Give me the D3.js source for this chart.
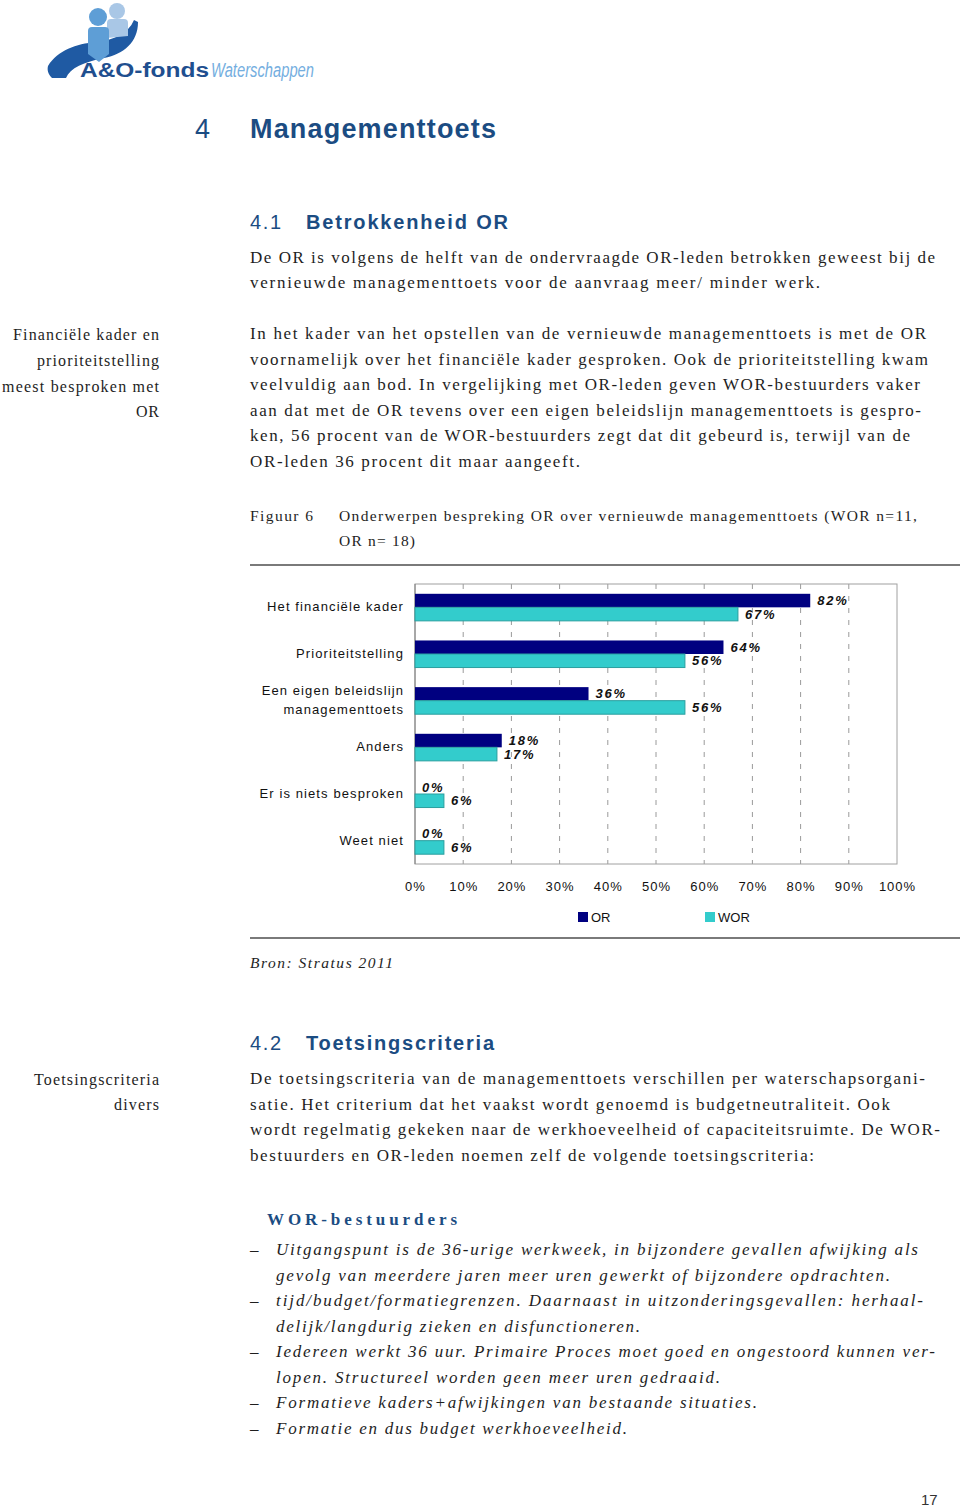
<!DOCTYPE html>
<html><head><meta charset="utf-8">
<script src="https://cdn.jsdelivr.net/npm/d3@7"></script>
<style>
html,body{margin:0;padding:0;background:#fff;}
svg{display:block;}
</style></head>
<body>
<svg id="page" width="960" height="1509"></svg>
<script>
// ---------- DATA ----------
const categories = ["Het financiële kader", "Prioriteitstelling", "Een eigen beleidslijn\nmanagementtoets", "Anders", "Er is niets besproken", "Weet niet"];
const orValues  = [82, 64, 36, 18, 0, 0];
const worValues = [67, 56, 56, 17, 6, 6];
const seriesNames = ["OR", "WOR"];
const seriesColors = ["#000080", "#33cccc"];
const tickValues = [0, 10, 20, 30, 40, 50, 60, 70, 80, 90, 100];

// ---------- PAGE TEXT ----------
const BLUE = "#1b4c82", INK = "#1e1e1e";
const svg = d3.select("#page");

function line(x0, x1, yc, str, o = {}) {
  const t = svg.append("text")
    .attr("x", x0).attr("y", yc + (o.dy ?? 6))
    .attr("font-family", o.family || "'Liberation Serif', 'Times New Roman', serif")
    .attr("font-size", o.size || 17)
    .attr("fill", o.fill || INK)
    .attr("font-weight", o.weight || "normal")
    .attr("font-style", o.style || "normal")
    .text(str);
  if (x1) t.attr("textLength", x1 - x0).attr("lengthAdjust", o.adjust || "spacing");
  return t;
}

// Logo
const logo = svg.append("g");
logo.append("path").attr("d", "M48,66 C58,50 76,44 96,42 C114,40 128,34 134,20 L138,22 C138,42 124,54 104,58 C84,62 70,68 66,78 L52,78 C48,74 47,70 48,66 Z").attr("fill", "#1f5aa3");
logo.append("circle").attr("cx", 117).attr("cy", 11).attr("r", 8).attr("fill", "#a9c7e6");
logo.append("path").attr("d", "M107,23 Q107,19 111,19 L124,19 Q128,19 128,23 L128,36 L107,38 Z").attr("fill", "#a9c7e6");
logo.append("circle").attr("cx", 98).attr("cy", 17).attr("r", 9).attr("fill", "#5e9ed6");
logo.append("path").attr("d", "M88,31 Q88,27 92,27 L105,27 Q109,27 109,31 L109,54 L99,62 L88,54 Z").attr("fill", "#5e9ed6");
line(80, 209, 70, "A&O-fonds", {family: "'Liberation Sans', Arial, sans-serif", weight: "bold", size: 20, fill: "#1f4f8f", dy: 7, adjust: "spacingAndGlyphs"});
line(211, 314, 70, "Waterschappen", {family: "'Liberation Sans', Arial, sans-serif", style: "italic", size: 20, fill: "#74aee0", dy: 7, adjust: "spacingAndGlyphs"});

// Chapter heading
line(195, null, 128, "4", {family: "'Liberation Sans', Arial, sans-serif", size: 27, fill: BLUE, dy: 10});
line(250, 496, 128, "Managementtoets", {family: "'Liberation Sans', Arial, sans-serif", size: 27, weight: "bold", fill: BLUE, dy: 10});

// 4.1
line(250, 281, 222, "4.1", {family: "'Liberation Sans', Arial, sans-serif", size: 20, fill: BLUE, dy: 7});
line(306, 508, 222, "Betrokkenheid OR", {family: "'Liberation Sans', Arial, sans-serif", size: 20, weight: "bold", fill: BLUE, dy: 7});

line(250, 935, 257, "De OR is volgens de helft van de ondervraagde OR-leden betrokken geweest bij de");
line(250, 820, 282, "vernieuwde managementtoets voor de aanvraag meer/ minder werk.");

// side note 1
line(13, 159, 334, "Financiële kader en", {size: 16});
line(37, 159, 360, "prioriteitstelling", {size: 16});
line(2, 159, 386, "meest besproken met", {size: 16});
line(136, 159, 411, "OR", {size: 16});

const p2 = [
  [926, "In het kader van het opstellen van de vernieuwde managementtoets is met de OR"],
  [928, "voornamelijk over het financiële kader gesproken. Ook de prioriteitstelling kwam"],
  [920, "veelvuldig aan bod. In vergelijking met OR-leden geven WOR-bestuurders vaker"],
  [921, "aan dat met de OR tevens over een eigen beleidslijn managementtoets is gespro-"],
  [910, "ken, 56 procent van de WOR-bestuurders zegt dat dit gebeurd is, terwijl van de"],
  [580, "OR-leden 36 procent dit maar aangeeft."]
];
p2.forEach((d, i) => line(250, d[0], 333 + i * 25.6, d[1]));

// Figure caption
line(250, 313, 515, "Figuur 6", {size: 15.5});
line(339, 917, 515, "Onderwerpen bespreking OR over vernieuwde managementtoets (WOR n=11,", {size: 15.5});
line(339, 415, 540, "OR n= 18)", {size: 15.5});

svg.append("line").attr("x1", 250).attr("x2", 960).attr("y1", 565).attr("y2", 565).attr("stroke", "#7a7a7a").attr("stroke-width", 2);
svg.append("line").attr("x1", 250).attr("x2", 960).attr("y1", 938).attr("y2", 938).attr("stroke", "#7a7a7a").attr("stroke-width", 2);

// ---------- CHART ----------
const plot = {left: 415, right: 897, top: 584, bottom: 864};
const x = d3.scaleLinear().domain([0, 100]).range([plot.left, plot.right]);
const y = d3.scaleBand().domain(categories).range([plot.top, plot.bottom]).paddingInner(0.42).paddingOuter(0.21);
const ySub = d3.scaleBand().domain(seriesNames).range([0, y.bandwidth()]);
const chart = svg.append("g").attr("font-family", "'Liberation Sans', Arial, sans-serif");

// gridlines
chart.append("g").selectAll("line").data(tickValues.filter(t => t > 0 && t < 100)).join("line")
  .attr("x1", d => x(d)).attr("x2", d => x(d)).attr("y1", plot.top).attr("y2", plot.bottom)
  .attr("stroke", "#9a9a9a").attr("stroke-width", 1).attr("stroke-dasharray", "5,7");
// frame
chart.append("rect").attr("x", plot.left).attr("y", plot.top).attr("width", plot.right - plot.left).attr("height", plot.bottom - plot.top)
  .attr("fill", "none").attr("stroke", "#a0a0a0").attr("stroke-width", 1);
chart.append("line").attr("x1", plot.left).attr("x2", plot.left).attr("y1", plot.top).attr("y2", plot.bottom).attr("stroke", "#808080");

const rows = categories.map((c, i) => ({cat: c, vals: [orValues[i], worValues[i]]}));
const grp = chart.append("g").selectAll("g").data(rows).join("g").attr("transform", d => `translate(0,${y(d.cat)})`);
grp.selectAll("rect").data(d => d.vals.map((v, j) => ({v, s: seriesNames[j], j}))).join("rect")
  .attr("x", x(0)).attr("y", d => ySub(d.s)).attr("width", d => x(d.v) - x(0)).attr("height", ySub.bandwidth())
  .attr("fill", d => seriesColors[d.j])
  .attr("stroke", d => d.j === 1 && d.v > 0 ? "#2a9f9f" : "none").attr("stroke-width", 1);
grp.selectAll("text.val").data(d => d.vals.map((v, j) => ({v, s: seriesNames[j], j}))).join("text").attr("class", "val")
  .attr("x", d => x(d.v) + 7).attr("y", d => ySub(d.s) + ySub.bandwidth() / 2 + 4.5)
  .attr("font-size", 13).attr("font-weight", "bold").attr("font-style", "italic").attr("letter-spacing", 1.8)
  .attr("fill", "#111").text(d => d.v + "%");

// category labels
chart.append("g").selectAll("text").data(categories).join("text")
  .attr("text-anchor", "end").attr("font-size", 13).attr("letter-spacing", 1.1).attr("fill", "#111")
  .attr("transform", d => `translate(404,${y(d) + y.bandwidth() / 2 - 0.5})`)
  .each(function (d) {
    const parts = d.split("\n");
    d3.select(this).selectAll("tspan").data(parts).join("tspan")
      .attr("x", 0).attr("y", (p, i) => (i - (parts.length - 1) / 2) * 19.5 + 4.5).text(p => p);
  });

// x axis labels
const xAxis = d3.axisBottom(x).tickValues(tickValues).tickSize(0).tickPadding(18).tickFormat(d => d + "%");
const ax = chart.append("g").attr("transform", `translate(0,${plot.bottom})`).call(xAxis);
ax.select(".domain").remove();
ax.selectAll("text").attr("font-size", 13).attr("letter-spacing", 1).attr("fill", "#111").attr("font-family", "'Liberation Sans', Arial, sans-serif");

// legend
const legendX = [578, 705];
const lg = chart.append("g").selectAll("g").data(seriesNames).join("g").attr("transform", (d, i) => `translate(${legendX[i]},912)`);
lg.append("rect").attr("width", 10).attr("height", 10).attr("fill", (d, i) => seriesColors[i]);
lg.append("text").attr("x", 13).attr("y", 10).attr("font-size", 13).attr("fill", "#111").text(d => d);

// ---------- REST OF PAGE ----------
line(250, 393, 962, "Bron: Stratus 2011", {size: 15.5, style: "italic"});

line(250, 281, 1043, "4.2", {family: "'Liberation Sans', Arial, sans-serif", size: 20, fill: BLUE, dy: 7});
line(306, 494, 1043, "Toetsingscriteria", {family: "'Liberation Sans', Arial, sans-serif", size: 20, weight: "bold", fill: BLUE, dy: 7});

line(34, 159, 1079, "Toetsingscriteria", {size: 16});
line(114, 159, 1104, "divers", {size: 16});

const p3 = [
  [925, "De toetsingscriteria van de managementtoets verschillen per waterschapsorgani-"],
  [890, "satie. Het criterium dat het vaakst wordt genoemd is budgetneutraliteit. Ook"],
  [940, "wordt regelmatig gekeken naar de werkhoeveelheid of capaciteitsruimte. De WOR-"],
  [814, "bestuurders en OR-leden noemen zelf de volgende toetsingscriteria:"]
];
p3.forEach((d, i) => line(250, d[0], 1078 + i * 25.5, d[1]));

line(267, 457, 1219, "WOR-bestuurders", {weight: "bold", fill: BLUE, size: 17});

const list = [
  [true, 918, "Uitgangspunt is de 36-urige werkweek, in bijzondere gevallen afwijking als"],
  [false, 890, "gevolg van meerdere jaren meer uren gewerkt of bijzondere opdrachten."],
  [true, 923, "tijd/budget/formatiegrenzen. Daarnaast in uitzonderingsgevallen: herhaal-"],
  [false, 640, "delijk/langdurig zieken en disfunctioneren."],
  [true, 935, "Iedereen werkt 36 uur. Primaire Proces moet goed en ongestoord kunnen ver-"],
  [false, 720, "lopen. Structureel worden geen meer uren gedraaid."],
  [true, 757, "Formatieve kaders+afwijkingen van bestaande situaties."],
  [true, 627, "Formatie en dus budget werkhoeveelheid."]
];
list.forEach((d, i) => {
  const yc = 1249 + i * 25.5;
  if (d[0]) line(250, null, yc, "–", {size: 17});
  line(276, d[1], yc, d[2], {style: "italic"});
});

line(921, null, 1500, "17", {family: "'Liberation Sans', Arial, sans-serif", size: 15, fill: "#333", dy: 5});
</script>
</body></html>
